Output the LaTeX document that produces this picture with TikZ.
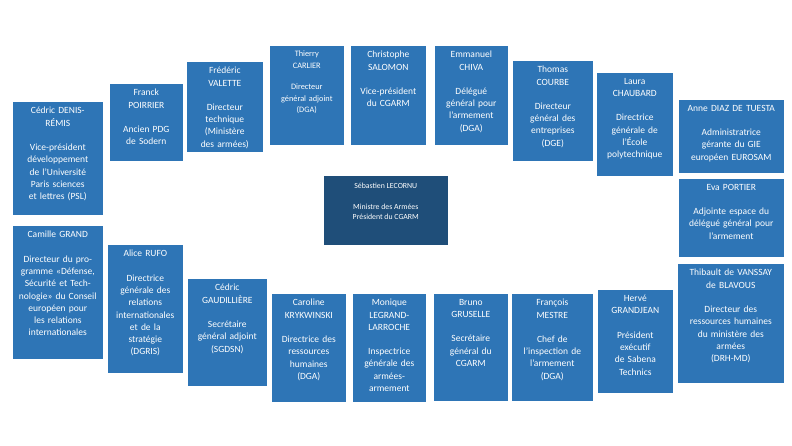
\documentclass[tikz,border=0pt]{standalone}
\usepackage{fontspec}
\setmainfont{Carlito}
\definecolor{bblue}{HTML}{2E75B6}
\definecolor{dblue}{HTML}{1F4E79}
\tikzset{
  boxs/.style={draw=white, line width=0.6pt, fill=bblue},
  txt/.style={anchor=north, align=center, text=white, inner sep=0pt, font=\fontsize{9.5}{12.3}\selectfont},
}
\newcommand{\bx}[7][txt]{%
  \node[boxs, minimum width={(#4-#2)*1pt}, minimum height={(#5-#3)*1pt}, anchor=north west, inner sep=0pt] (#6) at (#2pt,-#3pt) {};
  \node[#1, text width={(#4-#2-4)*1pt}] (#6t) at ([yshift=-6pt]#6.north) {#7};}
\begin{document}
\begin{tikzpicture}
\useasboundingbox (0,0) rectangle (792pt,-445pt);
\fill[white] (0,0) rectangle (792pt,-445pt);
\bx{12}{101}{103}{215}{a1}{Cédric DENIS-\\RÉMIS\\[12pt]Vice-président développement de l’Université Paris sciences et lettres (PSL)}
\bx{109}{83}{183}{161}{a2}{Franck\\POIRRIER\\[12pt]Ancien PDG\\de Sodern}
\bx{186}{61}{263}{152}{a3}{Frédéric\\VALETTE\\[12pt]Directeur\\technique\\(Ministère des armées)}
\bx[txt,font=\fontsize{8.3}{11.5}\selectfont]{269}{45}{344}{145}{a4}{Thierry\\CARLIER\\[10pt]Directeur\\général adjoint\\(DGA)}
\bx{350}{45}{426}{145}{a5}{Christophe\\SALOMON\\[12pt]Vice-président\\du CGARM}
\bx{434}{45}{508}{145}{a6}{Emmanuel\\CHIVA\\[12pt]Délégué\\général pour\\l’armement\\(DGA)}
\bx{512}{60}{593}{161}{a7}{Thomas\\COURBE\\[12pt]Directeur\\général des\\entreprises\\(DGE)}
\bx{596}{72}{673}{176}{a8}{Laura\\CHAUBARD\\[12pt]Directrice\\générale de\\l’École\\polytechnique}
\bx{678}{99}{784}{173}{a9}{Anne DIAZ DE TUESTA\\[12pt]Administratrice\\gérante du GIE\\européen EUROSAM}
\bx{678}{178}{784}{257}{a10}{Eva PORTIER\\[12pt]Adjointe espace du\\délégué général pour\\l’armement}
\bx{677}{263}{784}{383}{a11}{Thibault de VANSSAY\\de BLAVOUS\\[12pt]Directeur des\\ressources humaines\\du ministère des\\armées\\(DRH-MD)}
\bx{12}{225}{103}{359}{b1}{Camille GRAND\\[12pt]Directeur du programme «Défense, Sécurité et Technologie» du Conseil européen pour les relations internationales}
\bx{107}{244}{183}{373}{b2}{Alice RUFO\\[12pt]Directrice\\générale des\\relations\\internationales\\et de la\\stratégie\\(DGRIS)}
\bx{187}{278}{267}{386}{b3}{Cédric\\GAUDILLIÈRE\\[12pt]Secrétaire\\général adjoint\\(SGDSN)}
\bx{271}{293}{346}{402}{b4}{Caroline\\KRYKWINSKI\\[12pt]Directrice des\\ressources\\humaines\\(DGA)}
\bx{352}{293}{426}{402}{b5}{Monique\\LEGRAND-\\LARROCHE\\[12pt]Inspectrice\\générale des\\armées-\\armement}
\bx{433}{293}{508}{401}{b6}{Bruno\\GRUSELLE\\[12pt]Secrétaire\\général du\\CGARM}
\bx{511}{293}{593}{401}{b7}{François\\MESTRE\\[12pt]Chef de\\l’inspection de\\l’armement\\(DGA)}
\bx{597}{289}{673}{393}{b8}{Hervé\\GRANDJEAN\\[12pt]Président\\exécutif\\de Sabena\\Technics}
\node[boxs, fill=dblue, minimum width=125pt, minimum height=70pt, anchor=north west, inner sep=0pt] (c) at (323pt,-175pt) {};
\node[txt, font=\fontsize{7.8}{10.5}\selectfont] (ct) at ([yshift=-8pt]c.north) {Sébastien LECORNU\\[10pt]Ministre des Armées\\Président du CGARM};
\end{tikzpicture}
\end{document}
